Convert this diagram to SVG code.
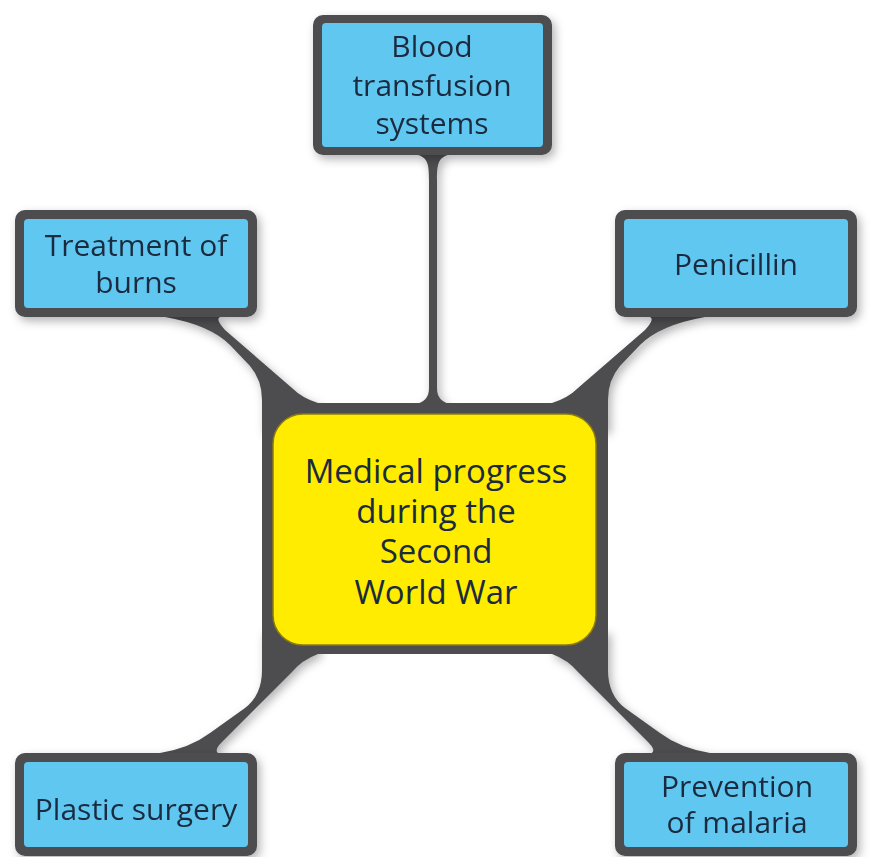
<svg xmlns="http://www.w3.org/2000/svg" width="871" height="857" viewBox="0 0 871 857">
<defs>
<filter id="sh" x="-20%" y="-20%" width="140%" height="140%">
<feDropShadow dx="3" dy="4" stdDeviation="5" flood-color="#000" flood-opacity="0.3"/>
</filter>
<style>
.dark{fill:#4d4d4f;}
.blue{fill:#60c8f0;}
.t{font-family:"Open Sans","Noto Sans",sans-serif;font-size:30px;fill:#1a2b40;text-anchor:middle;}
.c{font-size:33px;}
</style>
</defs>
<rect width="871" height="857" fill="#ffffff"/>
<g id="connectors" filter="url(#sh)">
<path class="dark" d="M 418 155 C 428 158 429 165 429 180 L 429 388 C 429 398 424 402 414 405 L 452 405 C 442 402 437 398 437 388 L 437 180 C 437 165 438 158 448 155 Z"/>
<path class="dark" d="M 220 317 Q 215 319 225 330 L 292 388 Q 302 398 318 403 L 318 430 L 262 430 L 262 400 Q 262 380 250 366 L 230 345 Q 210 325 165 317 Z"/>
<path class="dark" d="M 650 317 Q 655 319 645 330 L 578 388 Q 568 398 552 403 L 552 430 L 608 430 L 608 400 Q 608 380 620 366 L 640 345 Q 660 325 705 317 Z"/>
<path class="dark" d="M 318 654 L 318 630 L 262 630 L 262 670 Q 262 695 245 708 L 210 733 Q 190 748 160 753 L 218 753 Q 214 750 222 742 L 292 672 Q 302 660 318 654 Z"/>
<path class="dark" d="M 552 654 L 552 630 L 608 630 L 608 670 Q 608 695 625 708 L 660 733 Q 680 748 710 753 L 652 753 Q 656 750 648 742 L 578 672 Q 568 660 552 654 Z"/>
</g>
<g id="center">
<rect class="dark" x="262" y="403" width="346" height="251"/>
<rect x="273" y="414" width="323" height="231" rx="30" fill="#ffec00" stroke="#8c7c10" stroke-width="1.5"/>
<text class="t c" x="436" y="483">Medical progress</text>
<text class="t c" x="436" y="523">during the</text>
<text class="t c" x="436" y="563">Second</text>
<text class="t c" x="436" y="604">World War</text>
</g>
<g id="blood" filter="url(#sh)">
<rect class="dark" x="313" y="15" width="239" height="140" rx="10"/>
<rect class="blue" x="322" y="23" width="221" height="124" rx="4"/>
<text class="t" x="432" y="57">Blood</text>
<text class="t" x="432" y="96">transfusion</text>
<text class="t" x="432" y="134">systems</text>
</g>
<g id="burns" filter="url(#sh)">
<rect class="dark" x="15" y="210" width="242" height="107" rx="10"/>
<rect class="blue" x="24" y="219" width="224" height="89" rx="4"/>
<text class="t" x="136" y="256">Treatment of</text>
<text class="t" x="136" y="293">burns</text>
</g>
<g id="penicillin" filter="url(#sh)">
<rect class="dark" x="615" y="210" width="242" height="107" rx="10"/>
<rect class="blue" x="624" y="219" width="224" height="89" rx="4"/>
<text class="t" x="736" y="275">Penicillin</text>
</g>
<g id="plastic" filter="url(#sh)">
<rect class="dark" x="15" y="753" width="242" height="103" rx="10"/>
<rect class="blue" x="24" y="762" width="224" height="85" rx="4"/>
<text class="t" x="136" y="820">Plastic surgery</text>
</g>
<g id="malaria" filter="url(#sh)">
<rect class="dark" x="615" y="753" width="242" height="103" rx="10"/>
<rect class="blue" x="624" y="762" width="224" height="85" rx="4"/>
<text class="t" x="737" y="797">Prevention</text>
<text class="t" x="737" y="833">of malaria</text>
</g>
</svg>
